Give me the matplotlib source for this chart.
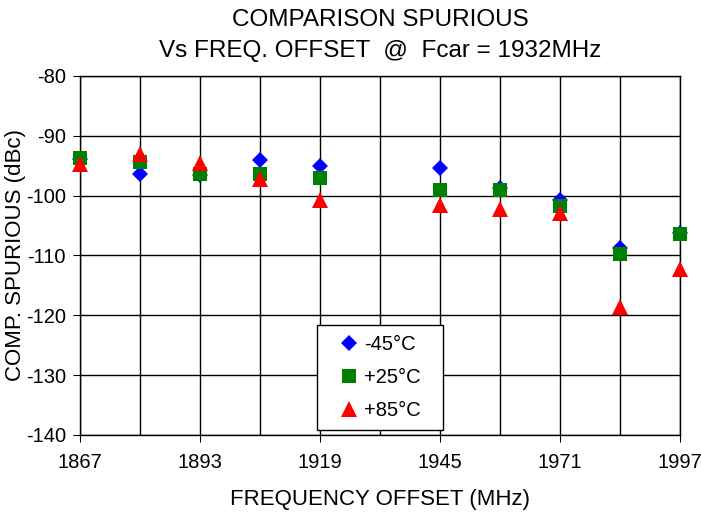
import matplotlib.pyplot as plt
from matplotlib.patches import Rectangle

plt.rcParams['font.family'] = ['Liberation Sans', 'DejaVu Sans']
plt.rcParams['axes.unicode_minus'] = False

# Datos
freq = [1867, 1880, 1893, 1906, 1919, 1945, 1958, 1971, 1984, 1997]
spur_m45 = [-93.8, -96.3, -96.6, -94.1, -95.1, -95.3, -98.8, -100.7, -108.8, -106.3]
spur_p25 = [-93.7, -94.3, -96.4, -96.4, -97.1, -99.0, -99.0, -101.7, -109.7, -106.4]
spur_p85 = [-94.7, -93.1, -94.6, -97.2, -100.8, -101.5, -102.3, -102.9, -118.6, -112.3]

tick_x = [1867, 1893, 1919, 1945, 1971, 1997]
grid_x = list(range(1867, 1998, 13))

fig = plt.figure(figsize=(7.01, 5.12), dpi=100)
ax = fig.add_axes([0.1141, 0.1504, 0.856, 0.7012])

ax.plot(freq, spur_m45, linestyle='none', marker='D', ms=8.5, color='#0000ff',
        markeredgewidth=0, label='-45°C', zorder=3, clip_on=False)
ax.plot(freq, spur_p25, linestyle='none', marker='s', ms=10.5, color='#007f00',
        markeredgewidth=0, label='+25°C', zorder=4, clip_on=False)
ax.plot(freq, spur_p85, linestyle='none', marker='^', ms=11, color='#ff0000',
        markeredgewidth=0, label='+85°C', zorder=5, clip_on=False)

ax.set_xlim(1867, 1997)
ax.set_ylim(-140, -80)
ax.set_xticks(tick_x)
ax.set_xticks(grid_x, minor=True)
ax.set_yticks(range(-140, -79, 10))
ax.tick_params(which='minor', length=0)
ax.tick_params(which='major', direction='out', length=5, labelsize=14.5, color='black')
ax.tick_params(axis='x', pad=8)
ax.tick_params(axis='y', pad=5)
ax.grid(True, which='both', color='black', linewidth=1)
ax.set_axisbelow(True)
for s in ax.spines.values():
    s.set_color('black')
    s.set_linewidth(1)

ax.set_xlabel('FREQUENCY OFFSET (MHz)', fontsize=16, labelpad=12)
ax.set_ylabel('COMP. SPURIOUS (dBc)', fontsize=16, labelpad=0)
ax.set_title('COMPARISON SPURIOUS\nVs FREQ. OFFSET  @  Fcar = 1932MHz', fontsize=17.5,
             pad=14, linespacing=1.5)

# caja de la leyenda
ax.add_patch(Rectangle((0.395, 0.014), 0.21, 0.2925, transform=ax.transAxes,
                       facecolor='white', edgecolor='black', linewidth=1, zorder=6))
leg = ax.legend(loc='center', bbox_to_anchor=(0.5, 0.16), frameon=False,
                fontsize=14.5, handlelength=0.9, handletextpad=0.3,
                labelspacing=0.7, borderpad=0)
leg.set_zorder(7)

fig.savefig('out.png', dpi=100)
